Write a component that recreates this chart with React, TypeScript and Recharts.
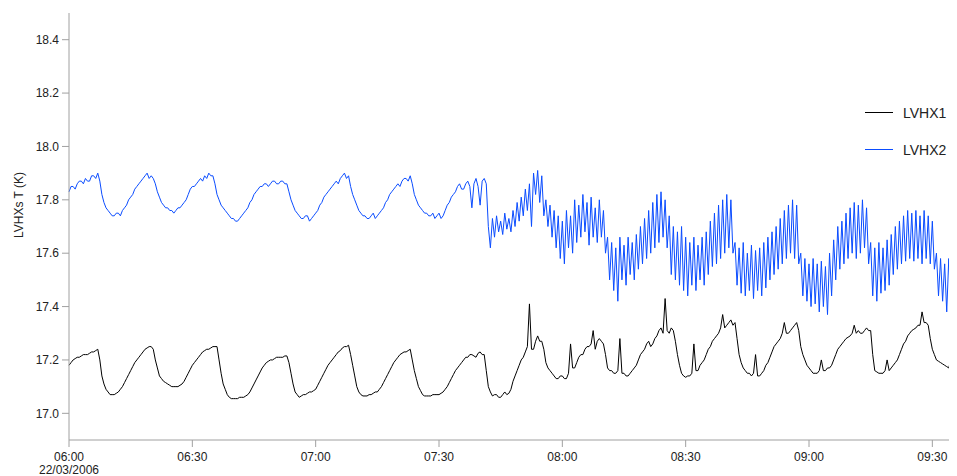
import React from "react";
import { LineChart, Line, XAxis, YAxis, Label } from "recharts";

// both series: one reading every half minute, starting 06:00 on 22/03/2006
const LVHX1 = [
  17.18, 17.19, 17.2, 17.205, 17.21, 17.21, 17.215, 17.22, 17.22, 17.22,
  17.225, 17.23, 17.23, 17.235, 17.24, 17.2, 17.14, 17.11, 17.09, 17.08,
  17.07, 17.07, 17.07, 17.075, 17.08, 17.09, 17.1, 17.115, 17.13, 17.145,
  17.16, 17.175, 17.19, 17.2, 17.21, 17.22, 17.23, 17.24, 17.245, 17.25,
  17.25, 17.24, 17.2, 17.17, 17.14, 17.13, 17.12, 17.115, 17.11, 17.105,
  17.1, 17.1, 17.1, 17.1, 17.105, 17.11, 17.12, 17.135, 17.15, 17.165,
  17.18, 17.19, 17.2, 17.21, 17.22, 17.23, 17.235, 17.24, 17.24, 17.245,
  17.25, 17.25, 17.25, 17.2, 17.15, 17.11, 17.09, 17.07, 17.06, 17.055,
  17.055, 17.055, 17.055, 17.06, 17.06, 17.06, 17.065, 17.07, 17.08, 17.095,
  17.11, 17.125, 17.14, 17.155, 17.17, 17.18, 17.19, 17.195, 17.2, 17.2,
  17.205, 17.21, 17.21, 17.21, 17.21, 17.215, 17.215, 17.19, 17.15, 17.11,
  17.08, 17.07, 17.06, 17.065, 17.07, 17.07, 17.075, 17.08, 17.08, 17.085,
  17.09, 17.105, 17.12, 17.135, 17.15, 17.165, 17.18, 17.19, 17.2, 17.21,
  17.22, 17.23, 17.235, 17.245, 17.25, 17.25, 17.255, 17.22, 17.18, 17.14,
  17.1, 17.08, 17.07, 17.065, 17.065, 17.065, 17.07, 17.07, 17.075, 17.08,
  17.08, 17.09, 17.1, 17.115, 17.13, 17.145, 17.16, 17.175, 17.19, 17.2,
  17.21, 17.22, 17.225, 17.23, 17.23, 17.235, 17.24, 17.2, 17.16, 17.13,
  17.1, 17.085, 17.07, 17.065, 17.065, 17.065, 17.065, 17.07, 17.07, 17.07,
  17.07, 17.075, 17.08, 17.09, 17.1, 17.115, 17.13, 17.145, 17.16, 17.17,
  17.18, 17.19, 17.2, 17.21, 17.21, 17.22, 17.22, 17.215, 17.21, 17.225,
  17.23, 17.22, 17.22, 17.16, 17.1, 17.08, 17.065, 17.07, 17.07, 17.06,
  17.06, 17.07, 17.08, 17.07, 17.075, 17.09, 17.12, 17.14, 17.16, 17.18,
  17.2, 17.21, 17.23, 17.25, 17.41, 17.24, 17.24, 17.27, 17.29, 17.27,
  17.27, 17.24, 17.19, 17.17, 17.16, 17.15, 17.14, 17.13, 17.13, 17.14,
  17.14, 17.13, 17.13, 17.15, 17.26, 17.17, 17.17, 17.19, 17.21, 17.22,
  17.22, 17.24, 17.25, 17.25, 17.26, 17.31, 17.24, 17.27, 17.28, 17.27,
  17.26, 17.22, 17.17, 17.16, 17.16, 17.15, 17.15, 17.16, 17.28, 17.15,
  17.15, 17.14, 17.14, 17.15, 17.16, 17.17, 17.18, 17.2, 17.22, 17.23,
  17.24, 17.26, 17.27, 17.25, 17.26, 17.28, 17.29, 17.31, 17.32, 17.3,
  17.43, 17.31, 17.3, 17.32, 17.31, 17.27, 17.22, 17.18, 17.15, 17.14,
  17.135, 17.14, 17.14, 17.15, 17.26, 17.16, 17.16, 17.18, 17.19, 17.2,
  17.22, 17.24, 17.25, 17.27, 17.28, 17.29, 17.3, 17.32, 17.37, 17.32,
  17.33, 17.34, 17.35, 17.33, 17.34, 17.28, 17.22, 17.19, 17.17, 17.16,
  17.15, 17.15, 17.14, 17.15, 17.22, 17.14, 17.14, 17.15, 17.16, 17.18,
  17.19, 17.21, 17.23, 17.25, 17.26, 17.27, 17.28, 17.3, 17.34, 17.3,
  17.3, 17.31, 17.32, 17.33, 17.34, 17.31, 17.25, 17.22, 17.2, 17.18,
  17.17, 17.16, 17.15, 17.15, 17.15, 17.16, 17.2, 17.16, 17.16, 17.17,
  17.17, 17.18, 17.2, 17.22, 17.24, 17.25, 17.26, 17.27, 17.28, 17.285,
  17.29, 17.3, 17.33, 17.3, 17.31, 17.3, 17.3, 17.31, 17.32, 17.31,
  17.31, 17.22, 17.16, 17.155, 17.15, 17.15, 17.15, 17.16, 17.2, 17.16,
  17.17, 17.18, 17.19, 17.2, 17.22, 17.24, 17.26, 17.27, 17.29, 17.3,
  17.31, 17.315, 17.32, 17.33, 17.33, 17.38, 17.34, 17.34, 17.33, 17.28,
  17.24, 17.22, 17.2, 17.195, 17.19, 17.185, 17.18, 17.175, 17.17, 17.2,
  17.25, 17.19, 17.18,
];

const LVHX2 = [
  17.83, 17.85, 17.85, 17.84, 17.86, 17.87, 17.87, 17.86, 17.88, 17.87,
  17.87, 17.89, 17.89, 17.88, 17.9, 17.87, 17.82, 17.79, 17.77, 17.76,
  17.75, 17.74, 17.74, 17.75, 17.75, 17.74, 17.76, 17.77, 17.78, 17.8,
  17.81, 17.82, 17.84, 17.85, 17.86, 17.87, 17.88, 17.89, 17.9, 17.88,
  17.89, 17.88, 17.86, 17.83, 17.81, 17.79, 17.78, 17.77, 17.77, 17.76,
  17.76, 17.75, 17.76, 17.77, 17.77, 17.78, 17.79, 17.8, 17.82, 17.84,
  17.85, 17.85, 17.86, 17.87, 17.88, 17.87, 17.89, 17.88, 17.9, 17.89,
  17.89, 17.86, 17.82, 17.8, 17.78, 17.77, 17.76, 17.75, 17.74, 17.73,
  17.73, 17.72, 17.72, 17.73, 17.74, 17.75, 17.76, 17.77, 17.79, 17.8,
  17.82, 17.83, 17.84, 17.85, 17.85, 17.86, 17.86, 17.85, 17.86, 17.87,
  17.87, 17.86, 17.86, 17.87, 17.87, 17.86, 17.86, 17.83, 17.8, 17.78,
  17.76, 17.75, 17.74, 17.73, 17.73, 17.74, 17.74, 17.72, 17.73, 17.74,
  17.75, 17.76, 17.78, 17.79, 17.81, 17.82, 17.83, 17.84, 17.85, 17.86,
  17.87, 17.86, 17.88, 17.89, 17.9, 17.88, 17.89, 17.85, 17.82, 17.8,
  17.78, 17.76, 17.75, 17.74, 17.74, 17.73, 17.73, 17.74, 17.75, 17.73,
  17.74, 17.75, 17.76, 17.77, 17.79, 17.8, 17.82, 17.83, 17.84, 17.85,
  17.86, 17.85, 17.87, 17.88, 17.88, 17.87, 17.89, 17.86, 17.82, 17.8,
  17.78, 17.77, 17.76, 17.75, 17.75, 17.74, 17.74, 17.75, 17.73, 17.74,
  17.75, 17.73, 17.74, 17.76, 17.78, 17.79, 17.81, 17.82, 17.83, 17.85,
  17.86, 17.84, 17.84, 17.86, 17.87, 17.85, 17.77, 17.86, 17.88, 17.85,
  17.78, 17.87, 17.88, 17.86, 17.7, 17.62, 17.73, 17.66, 17.74, 17.68,
  17.72, 17.67, 17.75, 17.69, 17.73, 17.68, 17.76, 17.7, 17.79, 17.72,
  17.81, 17.74, 17.84, 17.76, 17.86, 17.7, 17.9, 17.82, 17.91, 17.79,
  17.89, 17.74, 17.8, 17.7, 17.78, 17.66, 17.76, 17.62, 17.74, 17.58,
  17.72, 17.56, 17.76, 17.62, 17.74, 17.6, 17.8, 17.64, 17.78, 17.66,
  17.82, 17.68, 17.79, 17.63, 17.81, 17.66, 17.77, 17.64, 17.8, 17.66,
  17.76, 17.6, 17.66, 17.5, 17.64, 17.46, 17.62, 17.42, 17.66, 17.5,
  17.63, 17.48, 17.66, 17.52, 17.64, 17.5, 17.67, 17.54, 17.7, 17.56,
  17.73, 17.58, 17.76, 17.6, 17.79, 17.62, 17.82, 17.64, 17.83, 17.66,
  17.8, 17.62, 17.74, 17.52, 17.7, 17.5, 17.68, 17.48, 17.7, 17.46,
  17.66, 17.44, 17.64, 17.48, 17.66, 17.46, 17.63, 17.5, 17.66, 17.48,
  17.68, 17.52, 17.72, 17.55, 17.75, 17.56, 17.78, 17.58, 17.8, 17.6,
  17.82, 17.62, 17.8, 17.6, 17.64, 17.48, 17.62, 17.45, 17.64, 17.44,
  17.6, 17.46, 17.63, 17.43, 17.61, 17.46, 17.62, 17.44, 17.64, 17.47,
  17.66, 17.5, 17.68, 17.52, 17.7, 17.54, 17.73, 17.56, 17.76, 17.58,
  17.78, 17.6, 17.8, 17.58, 17.78, 17.56, 17.6, 17.44, 17.58, 17.42,
  17.56, 17.4, 17.58, 17.41, 17.56, 17.38, 17.57, 17.4, 17.55, 17.37,
  17.6, 17.44, 17.65, 17.5, 17.7, 17.54, 17.72, 17.56, 17.75, 17.58,
  17.77, 17.6, 17.79, 17.58, 17.78, 17.6, 17.8, 17.62, 17.77, 17.56,
  17.64, 17.44, 17.62, 17.42, 17.64, 17.45, 17.62, 17.46, 17.65, 17.48,
  17.67, 17.52, 17.7, 17.54, 17.72, 17.56, 17.74, 17.57, 17.76, 17.58,
  17.75, 17.57, 17.76, 17.58, 17.74, 17.56, 17.76, 17.58, 17.74, 17.56,
  17.72, 17.54, 17.6, 17.44, 17.58, 17.42, 17.56, 17.38, 17.58, 17.4,
  17.55, 17.36, 17.5,
];

const X_TICKS = [0, 30, 60, 90, 120, 150, 180, 210];
const X_LABELS = ["06:00", "06:30", "07:00", "07:30", "08:00", "08:30", "09:00", "09:30"];
const Y_TICKS = [17.0, 17.2, 17.4, 17.6, 17.8, 18.0, 18.2, 18.4];
const DATE = "22/03/2006";

const lvhx1Data = LVHX1.map((v, i) => ({ t: i / 2, value: v }));
const lvhx2Data = LVHX2.map((v, i) => ({ t: i / 2, value: v }));

const SERIES = [
  { key: "lvhx1", name: "LVHX1", color: "#000000", data: lvhx1Data },
  { key: "lvhx2", name: "LVHX2", color: "#0a4cff", data: lvhx2Data },
];

const FONT = "'Liberation Sans', Arial, sans-serif";
const AXIS = "#a0a0a0";

const TimeTick = (props: any) => {
  const { x, y, payload } = props;
  const idx = X_TICKS.indexOf(payload.value);
  return (
    <g>
      <text x={x} y={y + 12} textAnchor="middle" fontSize={12} fill="#222" fontFamily={FONT}>
        {X_LABELS[idx]}
      </text>
      {idx === 0 && (
        <text x={x} y={y + 25} textAnchor="middle" fontSize={12} fill="#222" fontFamily={FONT}>
          {DATE}
        </text>
      )}
    </g>
  );
};

const LegendBox = () => (
  <div style={{ position: "absolute", left: 857, top: 86, fontFamily: FONT }}>
    {SERIES.map((s) => (
      <div key={s.key} style={{ display: "flex", alignItems: "center", height: 37 }}>
        <div style={{ width: 28, height: 0, borderTop: `1px solid ${s.color}`, marginRight: 10 }} />
        <span style={{ fontSize: 14, color: "#222" }}>{s.name}</span>
      </div>
    ))}
  </div>
);

export default function App() {
  return (
    <div style={{ position: "relative", width: 949, height: 468 }}>
      <LineChart width={949} height={468} margin={{ top: 5, right: 0, bottom: 6, left: 0 }}>
        <XAxis
          dataKey="t"
          type="number"
          domain={[0, 216]}
          ticks={X_TICKS}
          height={30}
          stroke={AXIS}
          tickSize={7}
          tickLine={{ stroke: AXIS }}
          tick={<TimeTick />}
          interval={0}
          allowDuplicatedCategory={false}
        />
        <YAxis
          type="number"
          domain={[16.9, 18.5]}
          ticks={Y_TICKS}
          allowDataOverflow
          width={61}
          stroke={AXIS}
          tickSize={7}
          tickMargin={3}
          tickFormatter={(v: number) => v.toFixed(1)}
          tick={{ fontSize: 12, fill: "#222", fontFamily: FONT }}
        >
          <Label
            content={() => (
              <text
                x={11}
                y={197}
                transform="rotate(-90, 11, 197)"
                textAnchor="middle"
                dominantBaseline="central"
                fontSize={12}
                fill="#222"
                fontFamily={FONT}
              >
                LVHXs T (K)
              </text>
            )}
          />
        </YAxis>
        {SERIES.map((s) => (
          <Line
            key={s.key}
            data={s.data}
            dataKey="value"
            name={s.name}
            stroke={s.color}
            strokeWidth={1}
            dot={false}
            type="linear"
            isAnimationActive={false}
          />
        ))}
      </LineChart>
      <LegendBox />
    </div>
  );
}
